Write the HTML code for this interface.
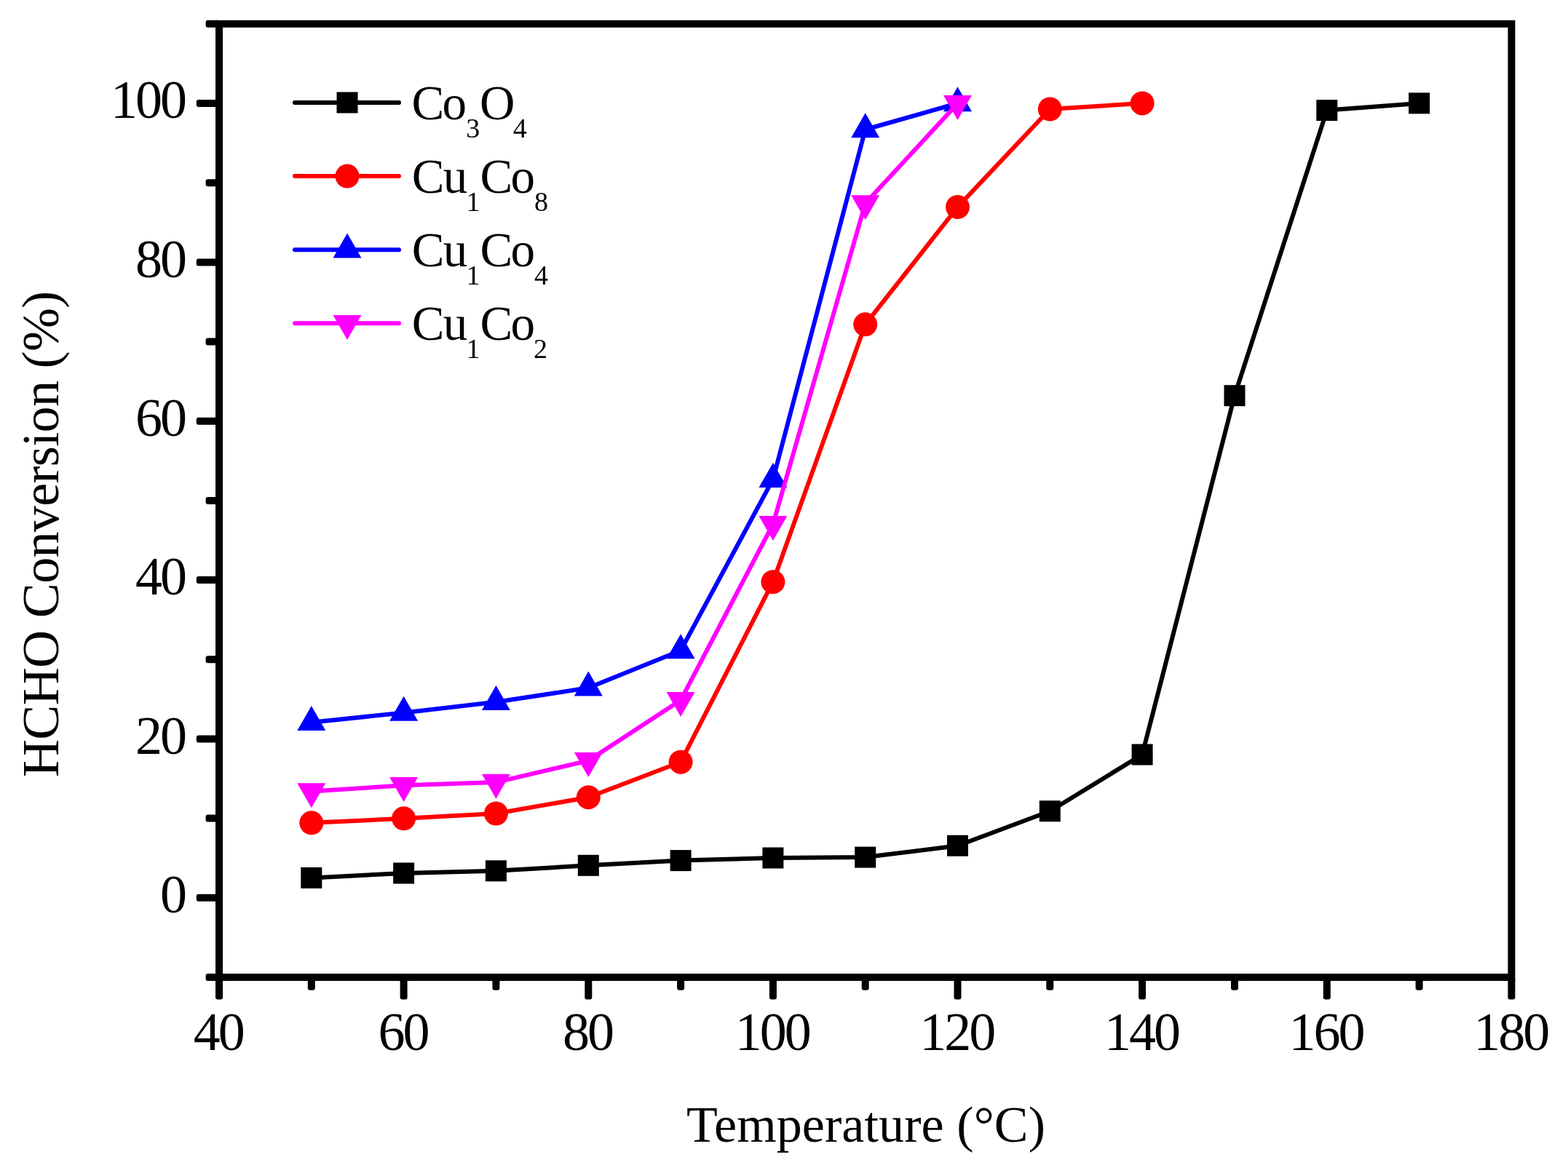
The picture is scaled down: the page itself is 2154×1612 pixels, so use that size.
<!DOCTYPE html>
<html><head><meta charset="utf-8"><title>HCHO Conversion vs Temperature</title>
<style>
html,body{margin:0;padding:0;background:#fff;}
svg{display:block;}
text{font-family:"Liberation Serif", "Times New Roman", serif;fill:#000;}
</style></head>
<body>
<svg width="2154" height="1612" viewBox="0 0 2154 1612">
<rect width="2154" height="1612" fill="#fff"/>
<rect x="301" y="32.8" width="1775.4" height="1310.2" fill="none" stroke="#000" stroke-width="10"/>
<rect x="282.6" y="1338" width="18.4" height="10" rx="3" fill="#000"/>
<rect x="269.8" y="1228.8" width="31.2" height="10" rx="3" fill="#000"/>
<rect x="282.6" y="1119.6" width="18.4" height="10" rx="3" fill="#000"/>
<rect x="269.8" y="1010.4" width="31.2" height="10" rx="3" fill="#000"/>
<rect x="282.6" y="901.3" width="18.4" height="10" rx="3" fill="#000"/>
<rect x="269.8" y="792.1" width="31.2" height="10" rx="3" fill="#000"/>
<rect x="282.6" y="682.9" width="18.4" height="10" rx="3" fill="#000"/>
<rect x="269.8" y="573.7" width="31.2" height="10" rx="3" fill="#000"/>
<rect x="282.6" y="464.5" width="18.4" height="10" rx="3" fill="#000"/>
<rect x="269.8" y="355.4" width="31.2" height="10" rx="3" fill="#000"/>
<rect x="282.6" y="246.2" width="18.4" height="10" rx="3" fill="#000"/>
<rect x="269.8" y="137" width="31.2" height="10" rx="3" fill="#000"/>
<rect x="282.6" y="27.8" width="18.4" height="10" rx="3" fill="#000"/>
<rect x="296" y="1343" width="10" height="30.6" rx="3" fill="#000"/>
<rect x="422.8" y="1343" width="10" height="17.8" rx="3" fill="#000"/>
<rect x="549.6" y="1343" width="10" height="30.6" rx="3" fill="#000"/>
<rect x="676.4" y="1343" width="10" height="17.8" rx="3" fill="#000"/>
<rect x="803.3" y="1343" width="10" height="30.6" rx="3" fill="#000"/>
<rect x="930.1" y="1343" width="10" height="17.8" rx="3" fill="#000"/>
<rect x="1056.9" y="1343" width="10" height="30.6" rx="3" fill="#000"/>
<rect x="1183.7" y="1343" width="10" height="17.8" rx="3" fill="#000"/>
<rect x="1310.5" y="1343" width="10" height="30.6" rx="3" fill="#000"/>
<rect x="1437.3" y="1343" width="10" height="17.8" rx="3" fill="#000"/>
<rect x="1564.1" y="1343" width="10" height="30.6" rx="3" fill="#000"/>
<rect x="1691" y="1343" width="10" height="17.8" rx="3" fill="#000"/>
<rect x="1817.8" y="1343" width="10" height="30.6" rx="3" fill="#000"/>
<rect x="1944.6" y="1343" width="10" height="17.8" rx="3" fill="#000"/>
<rect x="2071.4" y="1343" width="10" height="30.6" rx="3" fill="#000"/>
<text x="253.9" y="1254" text-anchor="end" font-size="74" letter-spacing="-3">0</text>
<text x="253.9" y="1035.6" text-anchor="end" font-size="74" letter-spacing="-3">20</text>
<text x="253.9" y="817.3" text-anchor="end" font-size="74" letter-spacing="-3">40</text>
<text x="253.9" y="598.9" text-anchor="end" font-size="74" letter-spacing="-3">60</text>
<text x="253.9" y="380.6" text-anchor="end" font-size="74" letter-spacing="-3">80</text>
<text x="253.9" y="162.2" text-anchor="end" font-size="74" letter-spacing="-3">100</text>
<text x="299.8" y="1443" text-anchor="middle" font-size="74" letter-spacing="-3">40</text>
<text x="553.4" y="1443" text-anchor="middle" font-size="74" letter-spacing="-3">60</text>
<text x="807.1" y="1443" text-anchor="middle" font-size="74" letter-spacing="-3">80</text>
<text x="1060.7" y="1443" text-anchor="middle" font-size="74" letter-spacing="-3">100</text>
<text x="1314.3" y="1443" text-anchor="middle" font-size="74" letter-spacing="-3">120</text>
<text x="1567.9" y="1443" text-anchor="middle" font-size="74" letter-spacing="-3">140</text>
<text x="1821.6" y="1443" text-anchor="middle" font-size="74" letter-spacing="-3">160</text>
<text x="2075.2" y="1443" text-anchor="middle" font-size="74" letter-spacing="-3">180</text>
<polyline points="427.8,1206.4 554.6,1200 681.4,1196.8 808.3,1189.3 935.1,1182.6 1061.9,1179 1188.7,1178.1 1315.5,1162.2 1442.3,1114.7 1569.1,1037 1696,543.7 1822.8,151.6 1949.6,141.9" fill="none" stroke="#000000" stroke-width="6" stroke-linejoin="round" stroke-linecap="round"/>
<rect x="413.3" y="1191.9" width="29" height="29" fill="#000000"/>
<rect x="540.1" y="1185.5" width="29" height="29" fill="#000000"/>
<rect x="666.9" y="1182.3" width="29" height="29" fill="#000000"/>
<rect x="793.8" y="1174.8" width="29" height="29" fill="#000000"/>
<rect x="920.6" y="1168.1" width="29" height="29" fill="#000000"/>
<rect x="1047.4" y="1164.5" width="29" height="29" fill="#000000"/>
<rect x="1174.2" y="1163.6" width="29" height="29" fill="#000000"/>
<rect x="1301" y="1147.7" width="29" height="29" fill="#000000"/>
<rect x="1427.8" y="1100.2" width="29" height="29" fill="#000000"/>
<rect x="1554.6" y="1022.5" width="29" height="29" fill="#000000"/>
<rect x="1681.5" y="529.2" width="29" height="29" fill="#000000"/>
<rect x="1808.3" y="137.1" width="29" height="29" fill="#000000"/>
<rect x="1935.1" y="127.4" width="29" height="29" fill="#000000"/>
<polyline points="427.8,1130.8 554.6,1124.8 681.4,1118 808.3,1095.7 935.1,1047.2 1061.9,799.7 1188.7,445.8 1315.5,284.5 1442.3,150 1569.1,141.9" fill="none" stroke="#ff0000" stroke-width="6" stroke-linejoin="round" stroke-linecap="round"/>
<circle cx="427.8" cy="1130.8" r="16.5" fill="#ff0000"/>
<circle cx="554.6" cy="1124.8" r="16.5" fill="#ff0000"/>
<circle cx="681.4" cy="1118" r="16.5" fill="#ff0000"/>
<circle cx="808.3" cy="1095.7" r="16.5" fill="#ff0000"/>
<circle cx="935.1" cy="1047.2" r="16.5" fill="#ff0000"/>
<circle cx="1061.9" cy="799.7" r="16.5" fill="#ff0000"/>
<circle cx="1188.7" cy="445.8" r="16.5" fill="#ff0000"/>
<circle cx="1315.5" cy="284.5" r="16.5" fill="#ff0000"/>
<circle cx="1442.3" cy="150" r="16.5" fill="#ff0000"/>
<circle cx="1569.1" cy="141.9" r="16.5" fill="#ff0000"/>
<polyline points="427.8,992.8 554.6,979.4 681.4,964.8 808.3,945.3 935.1,894 1061.9,658.7 1188.7,178 1315.5,142" fill="none" stroke="#0000ff" stroke-width="6" stroke-linejoin="round" stroke-linecap="round"/>
<polygon points="427.8,970.1 408.3,1004.1 447.3,1004.1" fill="#0000ff"/>
<polygon points="554.6,956.7 535.1,990.7 574.1,990.7" fill="#0000ff"/>
<polygon points="681.4,942.1 661.9,976.1 700.9,976.1" fill="#0000ff"/>
<polygon points="808.3,922.6 788.8,956.6 827.8,956.6" fill="#0000ff"/>
<polygon points="935.1,871.3 915.6,905.3 954.6,905.3" fill="#0000ff"/>
<polygon points="1061.9,636 1042.4,670 1081.4,670" fill="#0000ff"/>
<polygon points="1188.7,155.3 1169.2,189.3 1208.2,189.3" fill="#0000ff"/>
<polygon points="1315.5,119.3 1296,153.3 1335,153.3" fill="#0000ff"/>
<polyline points="427.8,1087.6 554.6,1079.2 681.4,1075.1 808.3,1045.3 935.1,962.3 1061.9,720.3 1188.7,279.5 1315.5,142.2" fill="none" stroke="#ff00ff" stroke-width="6" stroke-linejoin="round" stroke-linecap="round"/>
<polygon points="427.8,1110.3 408.3,1076.3 447.3,1076.3" fill="#ff00ff"/>
<polygon points="554.6,1101.9 535.1,1067.9 574.1,1067.9" fill="#ff00ff"/>
<polygon points="681.4,1097.8 661.9,1063.8 700.9,1063.8" fill="#ff00ff"/>
<polygon points="808.3,1068 788.8,1034 827.8,1034" fill="#ff00ff"/>
<polygon points="935.1,985 915.6,951 954.6,951" fill="#ff00ff"/>
<polygon points="1061.9,743 1042.4,709 1081.4,709" fill="#ff00ff"/>
<polygon points="1188.7,302.2 1169.2,268.2 1208.2,268.2" fill="#ff00ff"/>
<polygon points="1315.5,164.9 1296,130.9 1335,130.9" fill="#ff00ff"/>
<line x1="405" y1="141" x2="548" y2="141" stroke="#000000" stroke-width="6" stroke-linecap="round"/>
<rect x="462.5" y="126.5" width="29" height="29" fill="#000000"/>
<text font-size="67"><tspan x="565.4 607.5" y="163.5">Co</tspan><tspan x="640.3" y="188.5" font-size="38">3</tspan><tspan x="658.9" y="163.5">O</tspan><tspan x="704.8" y="188.5" font-size="38">4</tspan></text>
<line x1="405" y1="242.1" x2="548" y2="242.1" stroke="#ff0000" stroke-width="6" stroke-linecap="round"/>
<circle cx="477" cy="242.1" r="16.5" fill="#ff0000"/>
<text font-size="67"><tspan x="565.8 608.7" y="264.6">Cu</tspan><tspan x="640.5" y="289.6" font-size="38">1</tspan><tspan x="659.6 701.4" y="264.6">Co</tspan><tspan x="734" y="289.6" font-size="38">8</tspan></text>
<line x1="405" y1="343.2" x2="548" y2="343.2" stroke="#0000ff" stroke-width="6" stroke-linecap="round"/>
<polygon points="477,320.5 457.5,354.5 496.5,354.5" fill="#0000ff"/>
<text font-size="67"><tspan x="565.8 608.7" y="365.7">Cu</tspan><tspan x="640.5" y="390.7" font-size="38">1</tspan><tspan x="659.6 701.4" y="365.7">Co</tspan><tspan x="734" y="390.7" font-size="38">4</tspan></text>
<line x1="405" y1="444.3" x2="548" y2="444.3" stroke="#ff00ff" stroke-width="6" stroke-linecap="round"/>
<polygon points="477,467 457.5,433 496.5,433" fill="#ff00ff"/>
<text font-size="67"><tspan x="565.8 608.7" y="466.8">Cu</tspan><tspan x="640.5" y="491.8" font-size="38">1</tspan><tspan x="659.6 701.4" y="466.8">Co</tspan><tspan x="733" y="491.8" font-size="38">2</tspan></text>
<text x="943" y="1569" font-size="70" letter-spacing="0.1">Temperature (°C)</text>
<text transform="translate(80,1068) rotate(-90)" x="0" y="0" font-size="72" letter-spacing="-0.65">HCHO Conversion (%)</text>
</svg>
</body></html>
